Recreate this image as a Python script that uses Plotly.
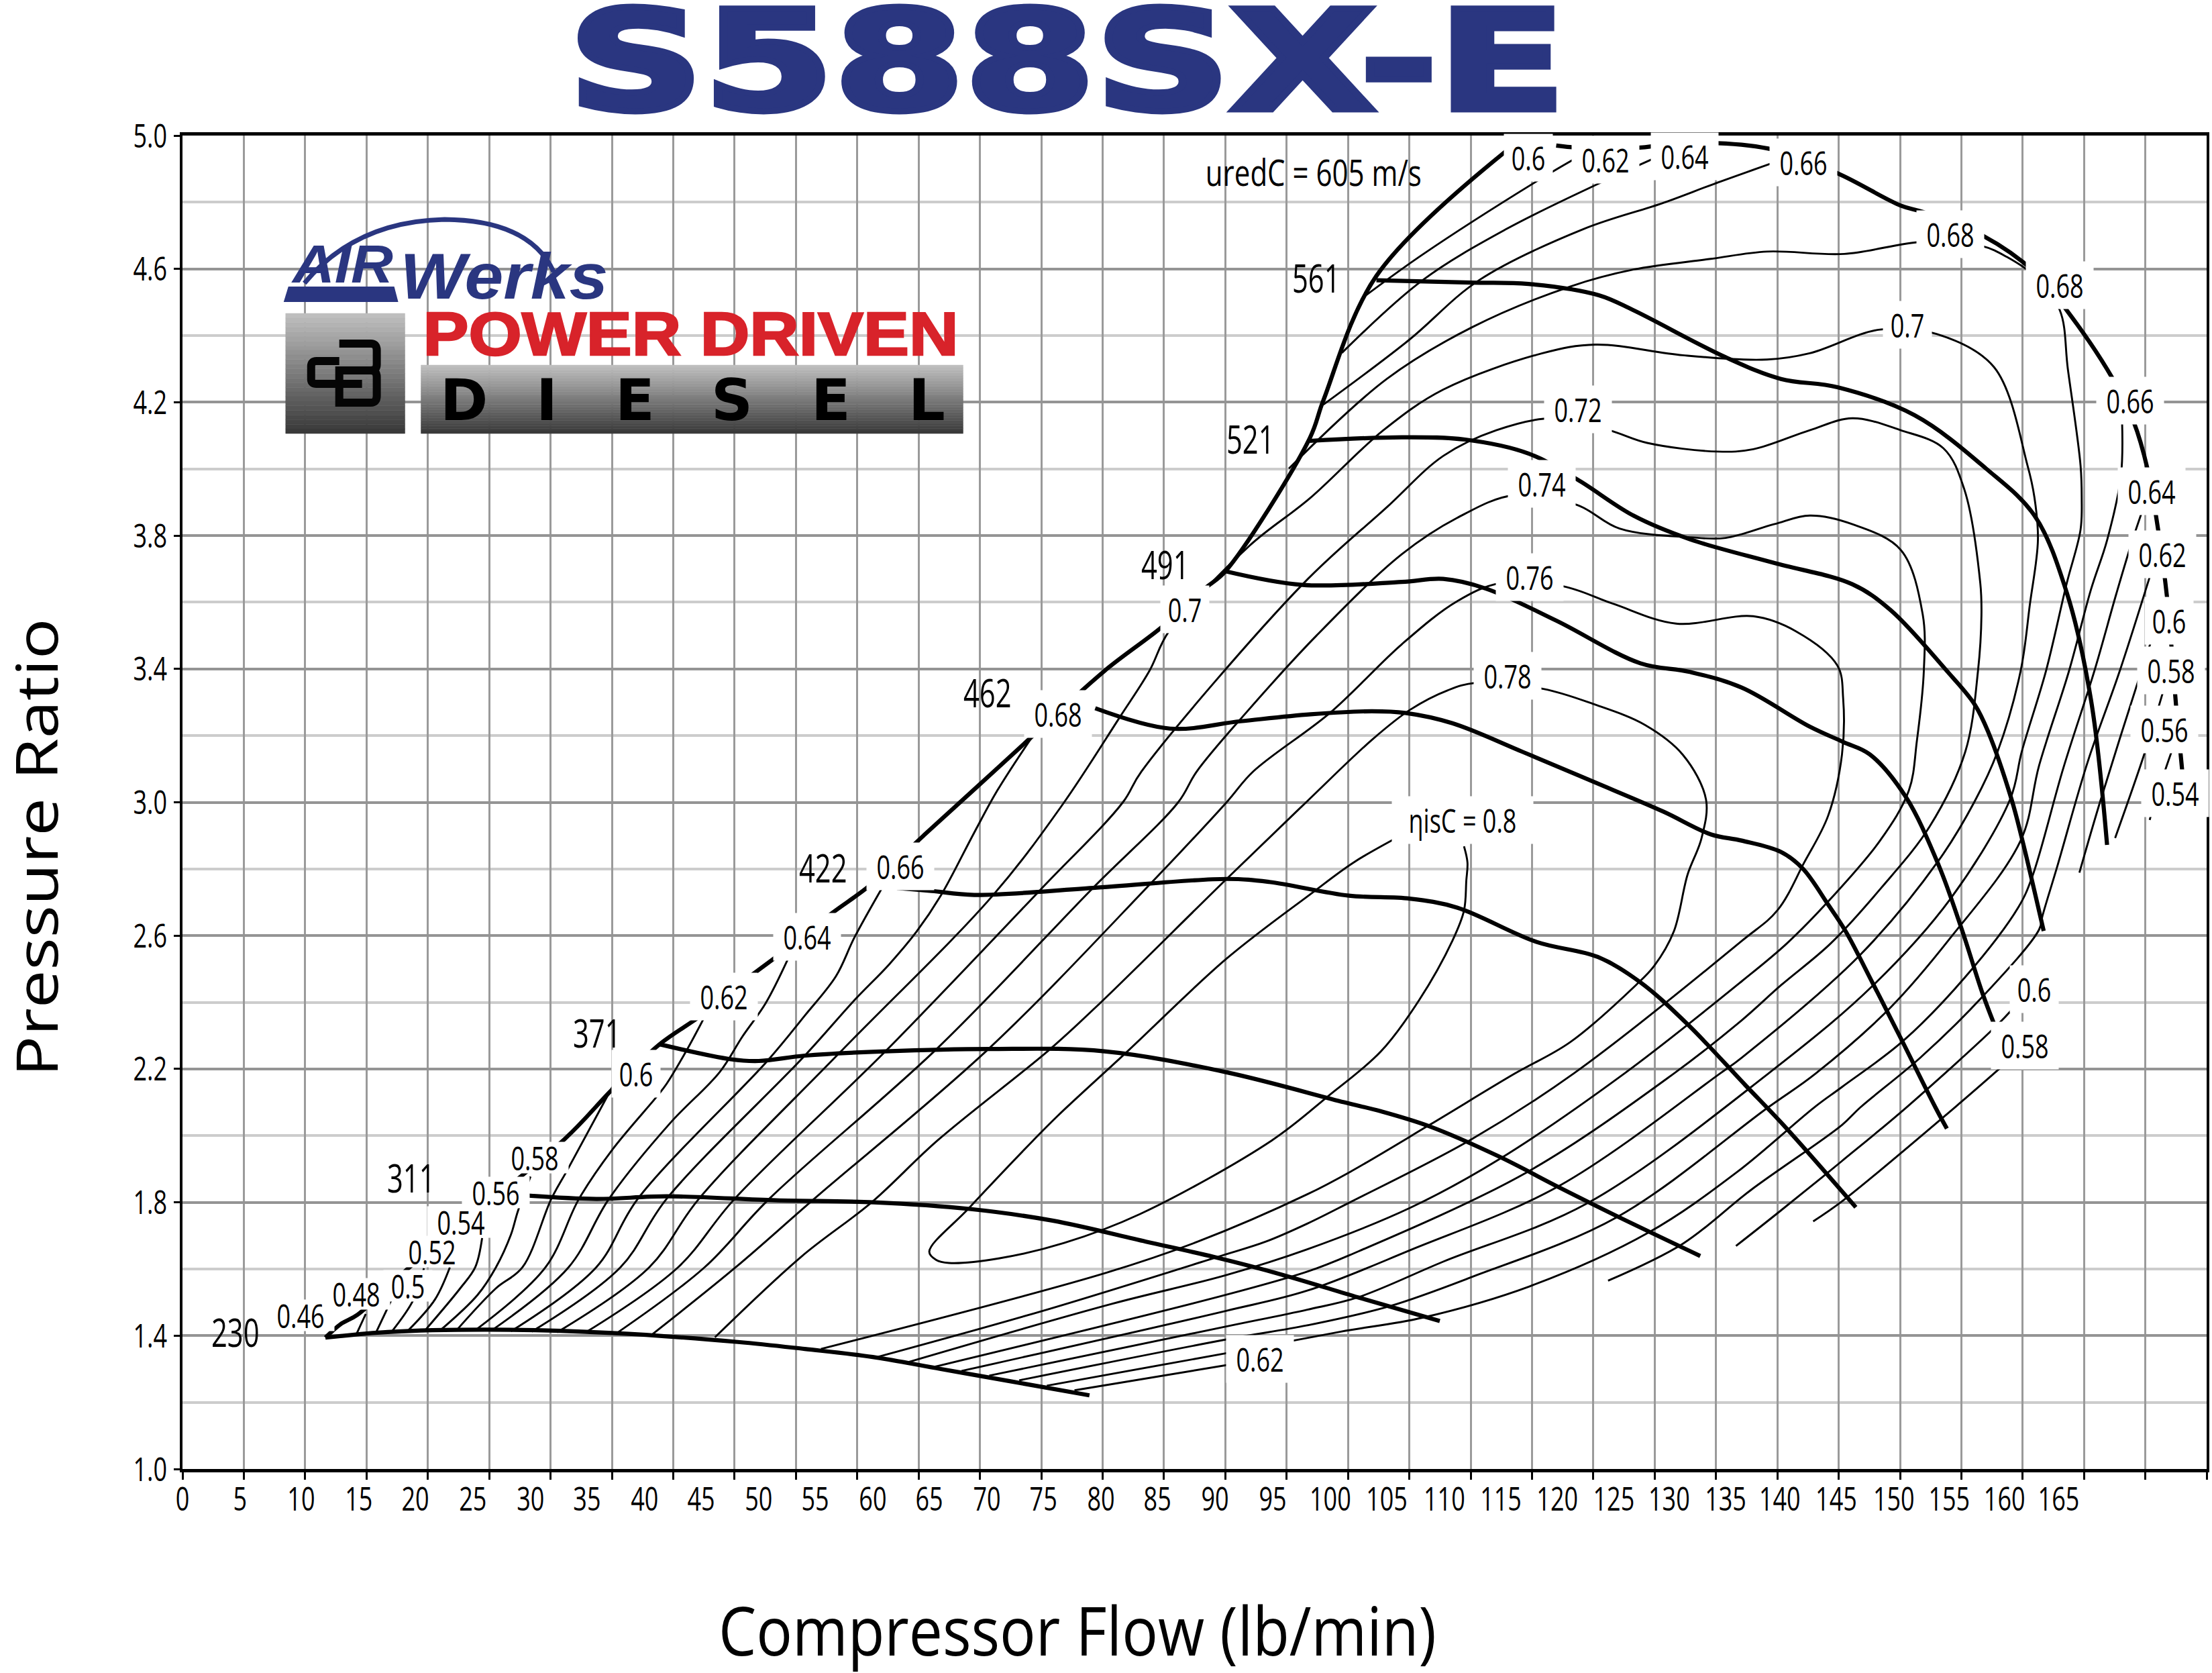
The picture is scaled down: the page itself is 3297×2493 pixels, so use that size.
import plotly.graph_objects as go

# ---------- axis data ----------
y_ticks = [1.0, 1.4, 1.8, 2.2, 2.6, 3.0, 3.4, 3.8, 4.2, 4.6, 5.0]
x_tick_labels = [str(v) for v in range(0, 170, 5)]
x_label_pos = [0, 5.0, 10.3, 15.3, 20.2, 25.2, 30.2, 35.1, 40.1, 45, 50, 54.9, 59.9, 64.8, 69.8, 74.7, 79.7,
               84.6, 89.6, 94.6, 99.6, 104.5, 109.5, 114.4, 119.3, 124.2, 129, 133.9, 138.6, 143.5, 148.5,
               153.3, 158.1, 162.8]

# ---------- speed lines ----------
s230_x = [12.4, 17.8, 26.7, 37.3, 48.2, 54, 59.9, 65.8, 71.7, 78.7]
s230_y = [1.394, 1.411, 1.418, 1.408, 1.381, 1.36, 1.336, 1.30, 1.264, 1.221]
s311_x = [30, 35.9, 42, 51.5, 60, 68.3, 75.5, 83.6, 89.5, 95.5, 102, 109.1]
s311_y = [1.82, 1.81, 1.818, 1.806, 1.80, 1.78, 1.745, 1.682, 1.636, 1.582, 1.515, 1.444]
s371_x = [41.4, 47.6, 50, 54, 61, 70, 80, 90.6, 100.8, 104, 108.2, 114.2, 119.5, 124.2, 131.7]
s371_y = [2.274, 2.229, 2.224, 2.24, 2.253, 2.26, 2.253, 2.19, 2.1, 2.073, 2.028, 1.938, 1.844, 1.763, 1.639]
s422_x = [62, 65, 68.7, 79, 90.6, 94.3, 101.2, 106.5, 110.6, 117.5, 122.8, 126.5, 130.6, 135.6, 139.1, 145.2]
s422_y = [2.743, 2.734, 2.722, 2.743, 2.77, 2.761, 2.72, 2.711, 2.684, 2.581, 2.536, 2.46, 2.334, 2.152, 2.025, 1.785]
s462_x = [79.2, 85.7, 91.8, 97.9, 103.2, 106.1, 110.2, 116.3, 122.4, 128.5, 132.6, 135.3, 138.7, 140.6, 142.8, 144.3, 146.7, 149.1, 152.1, 153.1]
s462_y = [3.282, 3.221, 3.243, 3.264, 3.273, 3.268, 3.237, 3.151, 3.062, 2.972, 2.904, 2.885, 2.851, 2.801, 2.693, 2.614, 2.455, 2.292, 2.085, 2.021]
s491_x = [90.5, 97.2, 105.8, 109.4, 113.1, 119.2, 126.5, 130.8, 135.3, 141.2, 144.1, 146.4, 149.5, 152.4, 154.4, 156.2, 157.3]
s491_y = [3.693, 3.652, 3.661, 3.67, 3.641, 3.545, 3.417, 3.391, 3.344, 3.227, 3.181, 3.144, 3.018, 2.81, 2.618, 2.426, 2.326]
s521_x = [97.8, 105.8, 111.3, 116.8, 121, 125.9, 130.8, 138.1, 144.9, 148.2, 153.1, 155.5, 156.7, 158.7, 159.6, 161.5]
s521_y = [4.084, 4.095, 4.088, 4.046, 3.969, 3.86, 3.789, 3.718, 3.654, 3.577, 3.394, 3.294, 3.21, 3.01, 2.893, 2.614]
s561_x = [103.6, 111.9, 116.8, 122.9, 125.9, 133.9, 138.7, 143.6, 150.3, 156.5, 160.7, 163.5, 165.6, 167]
s561_y = [4.566, 4.559, 4.555, 4.521, 4.476, 4.335, 4.27, 4.245, 4.161, 4.001, 3.86, 3.629, 3.308, 2.872]

# ---------- surge and choke boundary ----------
surge_x = [12.4, 13.7, 15.2, 19.6, 33.2, 37.3, 41.4, 44.8, 48, 51.5, 56.3, 59.7, 64.3, 69, 73.8, 80, 85, 88.7, 90.5, 97.8, 99, 103.6, 114.9]
surge_y = [1.394, 1.434, 1.463, 1.602, 1.991, 2.139, 2.274, 2.356, 2.446, 2.536, 2.666, 2.752, 2.9, 3.048, 3.2, 3.394, 3.526, 3.641, 3.693, 4.091, 4.206, 4.579, 4.955]
choke_x = [119.2, 121, 126.5, 128.1, 133.2, 138.1, 143.6, 149.1, 151, 156.2, 160.7, 163.5, 167.5, 169.3, 170.5, 171.5, 172.2, 172.6, 173, 173.5, 173.6]
choke_y = [4.97, 4.964, 4.964, 4.97, 4.977, 4.957, 4.887, 4.79, 4.771, 4.7, 4.591, 4.476, 4.27, 4.142, 4.001, 3.802, 3.616, 3.462, 3.285, 3.102, 3.06]

# ---------- efficiency islands ----------
eff80_x = [105.7, 101.6, 97.9, 90.6, 82, 75.9, 73.8, 68.2, 64.8, 65.4, 66.5, 70.9, 76.5, 83.1, 94.5, 99.4, 104, 107.3, 110.2, 111.2, 111.4, 111.5, 111.2]
eff80_y = [2.9, 2.819, 2.725, 2.531, 2.253, 2.058, 1.985, 1.781, 1.652, 1.627, 1.618, 1.632, 1.678, 1.765, 1.985, 2.118, 2.253, 2.406, 2.585, 2.675, 2.765, 2.819, 2.868]
eff78_x = [46.2, 53.7, 59.8, 65.5, 75.2, 79.3, 90.6, 97.5, 103.2, 106.5, 109.8, 112.2, 118.1, 122.4, 126.9, 130.2, 132.2, 131.8, 130.6, 129.4, 127.7, 126.1, 120.4, 115.6, 108.2, 101.3, 97.6, 88.1, 80.1, 55.4]
eff78_y = [1.395, 1.637, 1.80, 1.985, 2.257, 2.387, 2.77, 3.0, 3.187, 3.277, 3.336, 3.358, 3.34, 3.295, 3.232, 3.142, 3.008, 2.891, 2.783, 2.612, 2.509, 2.451, 2.28, 2.186, 2.032, 1.891, 1.824, 1.682, 1.588, 1.36]
eff76_x = [40.8, 48, 54.8, 70, 84, 90.6, 92.9, 99.6, 105.8, 110.6, 114.3, 119.8, 124.1, 129.6, 136.3, 140, 143.6, 144.1, 144, 142.8, 140.7, 138.4, 135.3, 120.7, 111.8, 101.3, 97.6, 94, 89.8, 74.7, 60.3]
eff76_y = [1.405, 1.605, 1.81, 2.262, 2.756, 3.0, 3.092, 3.269, 3.474, 3.603, 3.657, 3.648, 3.596, 3.536, 3.558, 3.513, 3.41, 3.311, 3.144, 2.96, 2.818, 2.676, 2.584, 2.186, 1.988, 1.80, 1.736, 1.682, 1.636, 1.475, 1.336]
eff74_x = [37.7, 45.3, 50.9, 65.5, 79, 86.4, 88, 92.3, 98.4, 105.8, 110.6, 115.5, 121, 124.7, 130.8, 133.9, 138.1, 141.2, 144.9, 149.1, 151, 151.1, 150.5, 149.8, 147.3, 143, 139.2, 135.3, 125.1, 114.2, 106.5, 97.6, 90.5, 80.6, 62.9]
eff74_y = [1.408, 1.605, 1.81, 2.262, 2.743, 3.0, 3.092, 3.269, 3.5, 3.744, 3.853, 3.921, 3.892, 3.821, 3.795, 3.793, 3.834, 3.86, 3.834, 3.757, 3.564, 3.394, 3.185, 3.035, 2.885, 2.71, 2.576, 2.463, 2.186, 1.928, 1.783, 1.659, 1.581, 1.495, 1.32]
eff72_x = [35, 43, 47.9, 61, 74.4, 81.6, 83.2, 97.2, 104.5, 109.4, 114, 118.9, 123.8, 127.1, 133.2, 136.3, 141.2, 144.9, 149.1, 152.8, 154.6, 156, 156.1, 155.8, 154.7, 151.6, 147.4, 143, 138.7, 135.3, 129.4, 116.7, 101.3, 97.6, 90.5, 65.2]
eff72_y = [1.41, 1.605, 1.81, 2.253, 2.736, 3.0, 3.092, 3.654, 3.885, 4.039, 4.116, 4.152, 4.116, 4.078, 4.052, 4.059, 4.116, 4.152, 4.116, 4.062, 3.94, 3.657, 3.561, 3.394, 3.152, 2.927, 2.743, 2.576, 2.451, 2.346, 2.186, 1.891, 1.642, 1.592, 1.522, 1.306]
eff70_x = [32.5, 40.5, 44.8, 57, 70.3, 76.3, 81.4, 83.9, 85.6, 92.6, 97.8, 104.2, 109.4, 118, 122.6, 130.2, 137.5, 141.2, 147.3, 152.2, 157.2, 160.1, 160.7, 161, 160.3, 159.5, 157.5, 155.5, 152.4, 145.6, 135.3, 133.4, 119.5, 106.5, 97.6, 90.5, 67.6]
eff70_y = [1.41, 1.605, 1.81, 2.248, 2.72, 2.99, 3.259, 3.394, 3.513, 3.77, 3.911, 4.116, 4.238, 4.347, 4.373, 4.341, 4.328, 4.347, 4.418, 4.405, 4.305, 4.01, 3.914, 3.786, 3.593, 3.394, 3.152, 3.002, 2.826, 2.543, 2.234, 2.186, 1.85, 1.656, 1.535, 1.474, 1.294]
eff68_low_x = [30.3, 38, 42, 54, 58.3, 61.3, 63.7, 65.8, 68.7, 70.7, 73.8]
eff68_low_y = [1.412, 1.605, 1.81, 2.24, 2.406, 2.513, 2.612, 2.72, 2.909, 3.035, 3.2]
eff68_up_x = [96, 104.5, 111.9, 120.4, 125.9, 132.6, 137.5, 144.2, 151, 156.2, 158.3, 160.7, 162.9, 163.6, 164.7, 164.8, 164.7, 163.5, 161.7, 159.6, 158.6, 153.4, 146.7, 137.6, 121.9, 109.4, 102, 97.6, 90.5, 70]
eff68_up_y = [4.001, 4.27, 4.425, 4.547, 4.598, 4.63, 4.652, 4.645, 4.681, 4.668, 4.636, 4.579, 4.476, 4.299, 4.01, 3.914, 3.818, 3.657, 3.394, 3.152, 3.01, 2.71, 2.451, 2.186, 1.797, 1.622, 1.515, 1.478, 1.427, 1.28]
eff66_low_x = [28.5, 35.9, 39.5, 50.8, 54, 56.7, 58.3, 60.7]
eff66_low_y = [1.413, 1.605, 1.81, 2.226, 2.36, 2.478, 2.594, 2.743]
eff66_up_x = [99, 106.4, 112.5, 121.6, 128.4, 132.9, 138.1]
eff66_up_y = [4.193, 4.386, 4.566, 4.72, 4.797, 4.855, 4.919]
eff66_right_x = [168.3, 168.2, 167, 165.6, 163.7, 161.1, 159.5, 153.4, 148.2, 141.7, 137.6, 124.5, 111.8, 104.7, 97.6, 90.8, 72.6]
eff66_right_y = [4.145, 3.978, 3.786, 3.638, 3.394, 3.11, 2.885, 2.593, 2.384, 2.186, 2.085, 1.756, 1.575, 1.488, 1.431, 1.39, 1.266]
eff64_low_x = [26.8, 33.5, 37, 42.3, 46.6, 48.6, 50.6, 52.5]
eff64_low_y = [1.415, 1.605, 1.81, 2.037, 2.19, 2.298, 2.397, 2.527]
eff64_up_x = [100.6, 107.6, 114.9, 123.2, 128.1]
eff64_up_y = [4.348, 4.566, 4.72, 4.861, 4.938]
eff64_right_x = [170.3, 169.2, 167.8, 165.9, 163.2, 160.5, 159.3, 154.7, 149.3, 144, 141.6, 134.9, 127.2, 116.9, 107.6, 100.5, 91, 75]
eff64_right_y = [3.898, 3.786, 3.625, 3.394, 3.102, 2.776, 2.685, 2.476, 2.284, 2.146, 2.085, 1.891, 1.709, 1.548, 1.454, 1.412, 1.35, 1.25]
eff62_low_x = [25.4, 31.5, 34.4, 37.3, 41.2, 42, 43.7, 45.3]
eff62_low_y = [1.416, 1.605, 1.81, 1.958, 2.119, 2.155, 2.253, 2.356]
eff62_up_x = [102.7, 107.6, 117.7, 120.9]
eff62_up_y = [4.521, 4.643, 4.867, 4.932]
eff62_right_x = [171.05, 168.1, 165.3, 162.7, 161.4, 161.1, 156.2, 150.8, 145.6, 144, 136.1, 130.2, 123.7]
eff62_right_y = [3.715, 3.394, 3.119, 2.81, 2.66, 2.618, 2.417, 2.234, 2.085, 2.032, 1.837, 1.676, 1.565]
eff62_bot_x = [77.4, 91]
eff62_bot_y = [1.236, 1.314]
eff60_low_x = [23.8, 27.2, 29.5, 32, 33.4, 37.3]
eff60_low_y = [1.417, 1.542, 1.605, 1.81, 1.897, 2.146]
eff60_top_x = [171.2, 170.1, 166.4, 164.6]
eff60_top_y = [3.522, 3.407, 3.002, 2.789]
eff60_bot_x = [158.8, 157.3, 149.6, 144, 138.5, 134.8]
eff60_bot_y = [2.38, 2.326, 2.085, 1.924, 1.77, 1.669]
eff58_low_x = [22.4, 25.6, 27.2, 28.5, 29.1, 30.2]
eff58_low_y = [1.417, 1.522, 1.605, 1.703, 1.773, 1.877]
eff58_top_x = [172.2, 171.9, 170.3, 167.7]
eff58_top_y = [3.368, 3.336, 3.152, 2.893]
eff58_bot_x = [157.8, 153.8, 144, 141.5]
eff58_bot_y = [2.205, 2.085, 1.803, 1.743]
eff56_low_x = [21.1, 24.1, 25.4, 26]
eff56_low_y = [1.418, 1.542, 1.605, 1.693]
eff56_top_x = [172.6, 172.1, 170.8, 170.7]
eff56_top_y = [3.152, 3.102, 2.96, 2.947]
eff54_low_x = [19.6, 21.9, 23.2]
eff54_low_y = [1.416, 1.508, 1.605]
eff52_low_x = [18.2, 20, 20.95]
eff52_low_y = [1.414, 1.505, 1.602]
eff50_low_x = [16.8, 18.1]
eff50_low_y = [1.41, 1.505]
eff48_low_x = [15.1, 15.9]
eff48_low_y = [1.405, 1.465]

# ---------- labels ----------
eff_label_text = ["0.46", "0.48", "0.5", "0.52", "0.54", "0.56", "0.58", "0.6", "0.62", "0.64", "0.66", "0.68", "0.7",
                  "0.6", "0.62", "0.64", "0.66", "0.68", "0.68", "0.7", "0.72", "0.74", "0.76", "0.78", "ηisC = 0.8",
                  "0.66", "0.64", "0.62", "0.6", "0.58", "0.56", "0.54", "0.6", "0.58", "0.62"]
eff_label_x = [10.1, 14.9, 19.4, 21.5, 24, 27, 30.4, 39.2, 46.8, 54, 62.1, 75.8, 86.8,
               116.6, 123.3, 130.2, 140.5, 153.2, 162.7, 149.5, 120.9, 117.8, 116.7, 114.8, 110.9,
               168.8, 170.7, 171.6, 172.2, 172.4, 171.8, 172.7, 160.5, 159.7, 93.3]
eff_label_y = [1.453, 1.517, 1.542, 1.644, 1.732, 1.821, 1.927, 2.177, 2.41, 2.588, 2.799, 3.257, 3.57,
               4.925, 4.92, 4.929, 4.912, 4.696, 4.544, 4.425, 4.171, 3.947, 3.667, 3.371, 2.939,
               4.196, 3.926, 3.735, 3.536, 3.388, 3.21, 3.02, 2.431, 2.262, 1.322]
speed_label_text = ["230", "311", "371", "422", "462", "491", "521", "561", "uredC = 605 m/s"]
speed_label_x = [4.4, 19.7, 35.8, 55.4, 69.7, 85.1, 92.5, 98.2, 98]
speed_label_y = [1.402, 1.864, 2.3, 2.795, 3.32, 3.705, 4.082, 4.565, 4.882]

# ---------- layout geometry ----------
W, H = 3297, 2493
L, R, T, B = 272, 3293, 202, 2189
x_max = (R - L) / 17.2
grid_step = 91.55 / 17.2
FONT = "Open Sans"
NAVY = "#2a3680"


def px(x):
    return (x - L) / (R - L)


def py(y):
    return 1 - (y - T) / (B - T)


fig = go.Figure()

thin_lines = [
    (eff80_x, eff80_y), (eff78_x, eff78_y), (eff76_x, eff76_y), (eff74_x, eff74_y), (eff72_x, eff72_y),
    (eff70_x, eff70_y), (eff68_low_x, eff68_low_y), (eff68_up_x, eff68_up_y), (eff66_low_x, eff66_low_y),
    (eff66_up_x, eff66_up_y), (eff66_right_x, eff66_right_y), (eff64_low_x, eff64_low_y), (eff64_up_x, eff64_up_y),
    (eff64_right_x, eff64_right_y), (eff62_low_x, eff62_low_y), (eff62_up_x, eff62_up_y),
    (eff62_right_x, eff62_right_y), (eff62_bot_x, eff62_bot_y), (eff60_low_x, eff60_low_y),
    (eff60_top_x, eff60_top_y), (eff60_bot_x, eff60_bot_y), (eff58_low_x, eff58_low_y), (eff58_top_x, eff58_top_y),
    (eff58_bot_x, eff58_bot_y), (eff56_low_x, eff56_low_y), (eff56_top_x, eff56_top_y), (eff54_low_x, eff54_low_y),
    (eff52_low_x, eff52_low_y), (eff50_low_x, eff50_low_y), (eff48_low_x, eff48_low_y),
]
for xs, ys in thin_lines:
    fig.add_trace(go.Scatter(x=xs, y=ys, mode="lines", xaxis="x", showlegend=False, hoverinfo="skip",
                             line=dict(color="#000000", width=2.9, shape="spline", smoothing=1.0)))

thick_lines = [(s230_x, s230_y), (s311_x, s311_y), (s371_x, s371_y), (s422_x, s422_y), (s462_x, s462_y),
               (s491_x, s491_y), (s521_x, s521_y), (s561_x, s561_y), (surge_x, surge_y), (choke_x, choke_y)]
for xs, ys in thick_lines:
    fig.add_trace(go.Scatter(x=xs, y=ys, mode="lines", xaxis="x2", showlegend=False, hoverinfo="skip",
                             line=dict(color="#000000", width=6.2, shape="spline", smoothing=1.0)))

CENTER = dict(xanchor="center", yanchor="middle", showarrow=False)
ann = []
for i, (t, x, y) in enumerate(zip(eff_label_text, eff_label_x, eff_label_y)):
    box_w = 210 if len(t) > 4 else (72 if len(t) == 3 else 100)
    box_h = 46 if i < 7 else 70
    ann.append(dict(x=x, y=y, xref="x", yref="y", text=t, bgcolor="#ffffff", borderpad=0, width=box_w, height=box_h,
                    xshift=3, yshift=4, font=dict(family=FONT, size=50, color="#000000"), **CENTER))
for t, x, y in zip(speed_label_text, speed_label_x, speed_label_y):
    ann.append(dict(x=x, y=y, xref="x", yref="y", text=t, xshift=3, yshift=5,
                    font=dict(family=FONT, size=58 if len(t) == 3 else 54, color="#000000"), **CENTER))

# title and axis titles
ann.append(dict(x=px(1592), y=py(92), xref="paper", yref="paper", text="<b>S588SX-E</b>",
                font=dict(family="DejaVu Sans", size=206, color=NAVY), **CENTER))
ann.append(dict(x=px(1608), y=py(2428), xref="paper", yref="paper", text="Compressor Flow (lb/min)",
                font=dict(family=FONT, size=100, color="#000000"), **CENTER))
ann.append(dict(x=px(52), y=py(1263), xref="paper", yref="paper", textangle=-90, text="Pressure Ratio",
                font=dict(family=FONT, size=86, color="#000000"), **CENTER))

# logo text
ann.append(dict(x=px(510), y=py(393), xref="paper", yref="paper", text="<b><i>AIR</i></b>",
                font=dict(family="Liberation Sans", size=80, color=NAVY), **CENTER))
ann.append(dict(x=px(752), y=py(411), xref="paper", yref="paper", text="<b><i>Werks</i></b>",
                font=dict(family="Liberation Sans", size=96, color=NAVY), **CENTER))
ann.append(dict(x=px(1031), y=py(498), xref="paper", yref="paper", text="<b>POWER DRIVEN</b>",
                font=dict(family="Liberation Sans", size=90, color="#d8232a"), **CENTER))
diesel_letters = ["D", "I", "E", "S", "E", "L"]
diesel_centers = [692, 816, 947, 1092, 1240, 1383]
for ch, cx in zip(diesel_letters, diesel_centers):
    ann.append(dict(x=px(cx), y=py(596), xref="paper", yref="paper", text=f"<b>{ch}</b>",
                    font=dict(family="DejaVu Sans", size=86, color="#000000"), **CENTER))

# logo shapes: gradient plates built from bands
shapes = []
bands = 26
for (x0, x1, y0, y1) in [(426, 604, 467, 646), (628, 1437, 544, 646)]:
    for i in range(bands):
        v = int(190 - (190 - 58) * i / (bands - 1))
        col = f"rgb({v},{v},{v})"
        shapes.append(dict(type="rect", xref="paper", yref="paper", layer="above",
                           x0=px(x0), x1=px(x1), y0=py(y0 + (y1 - y0) * i / bands),
                           y1=py(y0 + (y1 - y0) * (i + 1) / bands), fillcolor=col, line=dict(width=0.5, color=col)))


def p(x, y):
    return f"{px(x):.5f},{py(y):.5f}"


shapes.append(dict(type="path", xref="paper", yref="paper", layer="above", line=dict(color="#050505", width=12),
                   path=f"M{p(506,512)} L{p(553,512)} Q{p(562,512)} {p(562,522)} L{p(562,543)} Q{p(562,552)} {p(553,552)} "
                        f"L{p(506,552)} L{p(506,600)} L{p(553,600)} Q{p(562,600)} {p(562,590)} L{p(562,562)} Q{p(562,552)} {p(553,552)}"))
shapes.append(dict(type="path", xref="paper", yref="paper", layer="above", line=dict(color="#050505", width=12),
                   path=f"M{p(506,538)} L{p(472,538)} Q{p(464,538)} {p(464,546)} L{p(464,565)} Q{p(464,572)} {p(472,572)} L{p(540,572)}"))
shapes.append(dict(type="path", xref="paper", yref="paper", layer="above", line=dict(color=NAVY, width=7),
                   path=f"M{p(454,422)} Q{p(530,330)} {p(663,327)} Q{p(790,328)} {p(826,405)}"))
shapes.append(dict(type="path", xref="paper", yref="paper", layer="above", line=dict(width=0), fillcolor=NAVY,
                   path=f"M{p(430,427)} L{p(588,427)} L{p(594,450)} L{p(423,450)} Z"))

fig.update_layout(
    width=W, height=H, autosize=False, paper_bgcolor="#ffffff", plot_bgcolor="#ffffff",
    margin=dict(l=L, r=W - R, t=T, b=H - B, pad=0),
    showlegend=False, annotations=ann, shapes=shapes,
    font=dict(family=FONT, color="#000000"),
    xaxis=dict(range=[0, x_max], tick0=0, dtick=grid_step, showticklabels=False, ticks="outside", ticklen=11,
               tickwidth=3, tickcolor="#000000", showgrid=True, gridcolor="#9a9a9a", gridwidth=2.6, zeroline=False,
               showline=True, linecolor="#000000", linewidth=4.5, mirror=True),
    xaxis2=dict(range=[0, x_max], overlaying="x", anchor="y", side="bottom", tickmode="array", tickvals=x_label_pos,
                ticktext=x_tick_labels, ticks="outside", ticklen=1, tickcolor="rgba(0,0,0,0)", showgrid=False,
                tickangle=0, zeroline=False, showline=False, tickfont=dict(family=FONT, size=50, color="#000000")),
    yaxis=dict(range=[1, 5], tickmode="array", tickvals=y_ticks, ticktext=[f"{v:.1f}" for v in y_ticks],
               ticks="outside", ticklen=9, tickwidth=3, tickcolor="#000000", showgrid=True, gridcolor="#949494",
               gridwidth=4, zeroline=False, showline=True, linecolor="#000000", linewidth=4, mirror=True,
               tickfont=dict(family=FONT, size=50, color="#000000"),
               minor=dict(tickmode="array", tickvals=[1.2, 1.6, 2.0, 2.4, 2.8, 3.2, 3.6, 4.0, 4.4, 4.8],
                          showgrid=True, gridcolor="#cccccc", gridwidth=4, ticks="")),
)

# The reference uses a condensed face; no narrow font is installed, so the real text is condensed in place.
post = """
document.body.style.margin='0';document.body.style.overflow='hidden';
var exact={'S588SX-E':1487,'Compressor Flow (lb/min)':1070,'Pressure Ratio':683,'POWER DRIVEN':798,'AIR':150,'Werks':310,'uredC = 605 m/s':322};
document.querySelectorAll('.annotation-text, .xtick text, .x2tick text, .ytick text').forEach(function(t){
  var s=t.textContent, n=t.getComputedTextLength();
  if(s.length<2 && isNaN(s)) return;
  var w = exact[s] ? exact[s] : n*0.72;
  t.setAttribute('textLength', w);
  t.setAttribute('lengthAdjust','spacingAndGlyphs');
  if(s==='S588SX-E'){t.style.stroke='#2a3680';t.style.strokeWidth='9px';}
  if(s==='POWER DRIVEN'){t.style.stroke='#d8232a';t.style.strokeWidth='2.5px';}
});
"""
fig.write_html("out.html", post_script=post, config={"displayModeBar": False})
